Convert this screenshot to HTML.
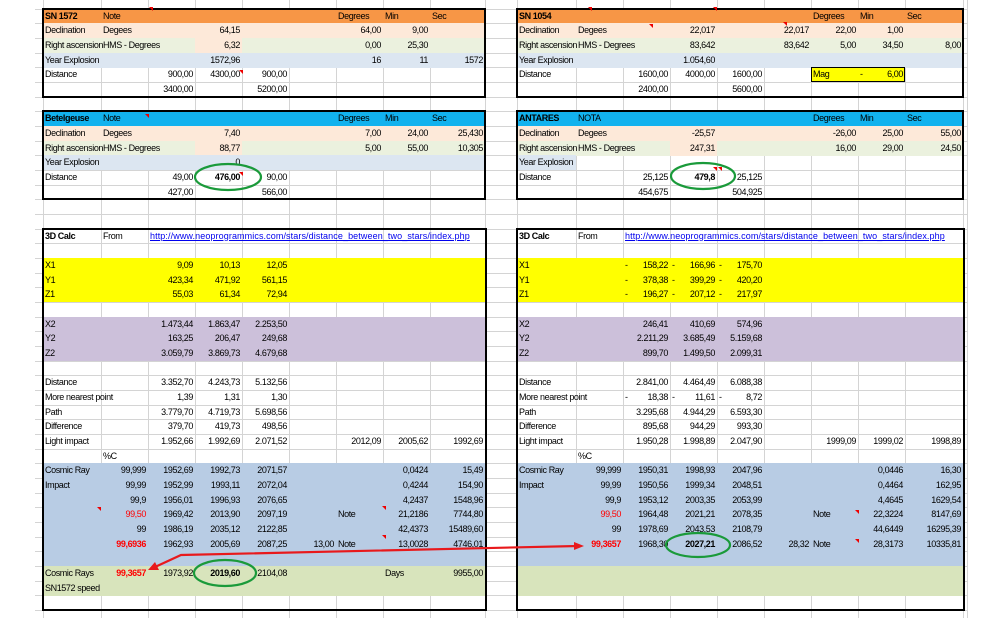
<!DOCTYPE html>
<html><head><meta charset="utf-8">
<style>
html,body{margin:0;padding:0;background:#fff;}
#w{position:relative;width:1000px;height:618px;overflow:hidden;font-family:"Liberation Sans",Arial,sans-serif;font-size:9px;letter-spacing:-0.4px;color:#000;}
.b{position:absolute;}
.t{position:absolute;white-space:nowrap;line-height:14.67px;height:14.67px;}
.bd{position:absolute;border:2px solid #000;box-sizing:border-box;}
</style></head><body>
<div id="w">
<svg id="grid" width="1000" height="618" style="position:absolute;left:0;top:0"></svg>
</div>
<script>
var W=document.getElementById('w'),G=document.getElementById('grid');
var H=14.67,Y0=8.5;
var L=[43,101,148,195,242,289,336,383,430,485],R=[517,576,623,670,717,764,811,858,905,963];
var s='';
[43,101,148,195,242,289,336,383,430,485,517,576,623,670,717,764,811,858,905,963,967].forEach(function(x){s+='<line x1="'+x+'.5" y1="0" x2="'+x+'.5" y2="618" stroke="#d4d4d4" stroke-width="1"/>';});
for(var k=-1;k<42;k++){var y=Math.round(Y0+k*H)+0.5;s+='<line x1="35" y1="'+y+'" x2="967" y2="'+y+'" stroke="#d4d4d4" stroke-width="1"/>';}
G.innerHTML=s;
function ry(r){return Y0+r*H;}
function band(C,c0,c1,r0,r1,col){var d=document.createElement('div');d.className='b';d.style.cssText='left:'+C[c0]+'px;width:'+(C[c1]-C[c0])+'px;top:'+ry(r0)+'px;height:'+((r1-r0)*H+0.5)+'px;background:'+col;W.appendChild(d);}
function tx(C,r,c,t,o){o=o||'';var d=document.createElement('div');d.className='t';var right=o.indexOf('L')<0&&/^[-0-9.,]+$/.test(t);
 if(right){d.style.left=(C[c]-60)+'px';d.style.width=(C[c+1]-C[c]+58)+'px';d.style.textAlign='right';}
 else{d.style.left=(C[c]+2)+'px';}
 d.style.top=ry(r)+'px';
 if(o.indexOf('b')>=0)d.style.fontWeight='bold';
 if(o.indexOf('x')>=0)d.style.color='#f00';
 if(o.indexOf('u')>=0){d.style.color='#0000ee';d.style.textDecoration='underline';d.style.letterSpacing='0.1px';}
 d.textContent=t;W.appendChild(d);}
function rows(C,r0,arr){arr.forEach(function(row,i){row.forEach(function(c){if(c)tx(C,r0+i,c[0],c[1],c[2]);});});}
var OR='#f79646',CY='#12b2ee',PE='#fde9d9',GR='#ebf1de',BL='#dce6f1';
function topBlock(C,r,col,peachD2,yearFull){
 band(C,0,9,r,r+1,col);band(C,0,9,r+1,r+2,PE);band(C,0,9,r+2,r+3,GR);
 if(peachD2)band(C,3,4,r+2,r+3,PE);
 band(C,0,yearFull?9:1,r+3,r+4,BL);
}
topBlock(L,0,OR,true,true);topBlock(L,7,CY,true,true);
topBlock(R,0,OR,false,true);topBlock(R,7,CY,true,false);
(function(){var d=document.createElement('div');d.className='b';d.style.cssText='left:811px;top:'+ry(4)+'px;width:94px;height:15px;background:#ffff00;border:1px solid #000;box-sizing:border-box';W.appendChild(d);})();
rows(L,0,[
 [[0,'SN 1572','b'],[1,'Note'],[6,'Degrees','L'],[7,'Min'],[8,'Sec']],
 [[0,'Declination'],[1,'Degees'],[3,'64,15'],[6,'64,00'],[7,'9,00']],
 [[0,'Right ascension'],[1,'HMS - Degrees'],[3,'6,32'],[6,'0,00'],[7,'25,30']],
 [[0,'Year Explosion'],[3,'1572,96'],[6,'16'],[7,'11'],[8,'1572']],
 [[0,'Distance'],[2,'900,00'],[3,'4300,00'],[4,'900,00']],
 [[2,'3400,00'],[4,'5200,00']],[],
 [[0,'Betelgeuse','b'],[1,'Note'],[6,'Degrees','L'],[7,'Min'],[8,'Sec']],
 [[0,'Declination'],[1,'Degees'],[3,'7,40'],[6,'7,00'],[7,'24,00'],[8,'25,430']],
 [[0,'Right ascension'],[1,'HMS - Degrees'],[3,'88,77'],[6,'5,00'],[7,'55,00'],[8,'10,305']],
 [[0,'Year Explosion'],[3,'0']],
 [[0,'Distance'],[2,'49,00'],[3,'476,00','b'],[4,'90,00']],
 [[2,'427,00'],[4,'566,00']]
]);
rows(R,0,[
 [[0,'SN 1054','b'],[6,'Degrees','L'],[7,'Min'],[8,'Sec']],
 [[0,'Declination'],[1,'Degees'],[3,'22,017'],[5,'22,017'],[6,'22,00'],[7,'1,00']],
 [[0,'Right ascension'],[1,'HMS - Degrees'],[3,'83,642'],[5,'83,642'],[6,'5,00'],[7,'34,50'],[8,'8,00']],
 [[0,'Year Explosion'],[3,'1.054,60']],
 [[0,'Distance'],[2,'1600,00'],[3,'4000,00'],[4,'1600,00'],[6,'Mag','L'],[7,'6,00']],
 [[2,'2400,00'],[4,'5600,00']],[],
 [[0,'ANTARES','b'],[1,'NOTA'],[6,'Degrees','L'],[7,'Min'],[8,'Sec']],
 [[0,'Declination'],[1,'Degees'],[3,'-25,57'],[6,'-26,00'],[7,'25,00'],[8,'55,00']],
 [[0,'Right ascension'],[1,'HMS - Degrees'],[3,'247,31'],[6,'16,00'],[7,'29,00'],[8,'24,50']],
 [[0,'Year Explosion']],
 [[0,'Distance'],[2,'25,125'],[3,'479,8','b'],[4,'25,125']],
 [[2,'454,675'],[4,'504,925']]
]);
tx(R,4,7,'-','L');
var B0=15;
[L,R].forEach(function(C){band(C,0,9,B0+2,B0+5,'#ffff00');band(C,0,9,B0+6,B0+9,'#ccc0da');band(C,0,9,B0+16,B0+23,'#b8cce4');band(C,0,9,B0+23,B0+25,'#d8e4bc');});
var url='http://www.neoprogrammics.com/stars/distance_between_two_stars/index.php';
rows(L,B0,[
 [[0,'3D Calc','b'],[1,'From'],[2,url,'uL']],[],
 [[0,'X1'],[2,'9,09'],[3,'10,13'],[4,'12,05']],
 [[0,'Y1'],[2,'423,34'],[3,'471,92'],[4,'561,15']],
 [[0,'Z1'],[2,'55,03'],[3,'61,34'],[4,'72,94']],[],
 [[0,'X2'],[2,'1.473,44'],[3,'1.863,47'],[4,'2.253,50']],
 [[0,'Y2'],[2,'163,25'],[3,'206,47'],[4,'249,68']],
 [[0,'Z2'],[2,'3.059,79'],[3,'3.869,73'],[4,'4.679,68']],[],
 [[0,'Distance'],[2,'3.352,70'],[3,'4.243,73'],[4,'5.132,56']],
 [[0,'More nearest point'],[2,'1,39'],[3,'1,31'],[4,'1,30']],
 [[0,'Path'],[2,'3.779,70'],[3,'4.719,73'],[4,'5.698,56']],
 [[0,'Difference'],[2,'379,70'],[3,'419,73'],[4,'498,56']],
 [[0,'Light impact'],[2,'1.952,66'],[3,'1.992,69'],[4,'2.071,52'],[6,'2012,09'],[7,'2005,62'],[8,'1992,69']],
 [[1,'%C']],
 [[0,'Cosmic Ray'],[1,'99,999'],[2,'1952,69'],[3,'1992,73'],[4,'2071,57'],[7,'0,0424'],[8,'15,49']],
 [[0,'Impact'],[1,'99,99'],[2,'1952,99'],[3,'1993,11'],[4,'2072,04'],[7,'0,4244'],[8,'154,90']],
 [[1,'99,9'],[2,'1956,01'],[3,'1996,93'],[4,'2076,65'],[7,'4,2437'],[8,'1548,96']],
 [[1,'99,50','x'],[2,'1969,42'],[3,'2013,90'],[4,'2097,19'],[6,'Note'],[7,'21,2186'],[8,'7744,80']],
 [[1,'99'],[2,'1986,19'],[3,'2035,12'],[4,'2122,85'],[7,'42,4373'],[8,'15489,60']],
 [[1,'99,6936','xb'],[2,'1962,93'],[3,'2005,69'],[4,'2087,25'],[5,'13,00'],[6,'Note'],[7,'13,0028'],[8,'4746,01']],[],
 [[0,'Cosmic Rays'],[1,'99,3657','xb'],[2,'1973,92'],[3,'2019,60','b'],[4,'2104,08'],[7,'Days','L'],[8,'9955,00']],
 [[0,'SN1572 speed']]
]);
rows(R,B0,[
 [[0,'3D Calc','b'],[1,'From'],[2,url,'uL']],[],
 [[0,'X1'],[2,'158,22'],[3,'166,96'],[4,'175,70']],
 [[0,'Y1'],[2,'378,38'],[3,'399,29'],[4,'420,20']],
 [[0,'Z1'],[2,'196,27'],[3,'207,12'],[4,'217,97']],[],
 [[0,'X2'],[2,'246,41'],[3,'410,69'],[4,'574,96']],
 [[0,'Y2'],[2,'2.211,29'],[3,'3.685,49'],[4,'5.159,68']],
 [[0,'Z2'],[2,'899,70'],[3,'1.499,50'],[4,'2.099,31']],[],
 [[0,'Distance'],[2,'2.841,00'],[3,'4.464,49'],[4,'6.088,38']],
 [[0,'More nearest point'],[2,'18,38'],[3,'11,61'],[4,'8,72']],
 [[0,'Path'],[2,'3.295,68'],[3,'4.944,29'],[4,'6.593,30']],
 [[0,'Difference'],[2,'895,68'],[3,'944,29'],[4,'993,30']],
 [[0,'Light impact'],[2,'1.950,28'],[3,'1.998,89'],[4,'2.047,90'],[6,'1999,09'],[7,'1999,02'],[8,'1998,89']],
 [[1,'%C']],
 [[0,'Cosmic Ray'],[1,'99,999'],[2,'1950,31'],[3,'1998,93'],[4,'2047,96'],[7,'0,0446'],[8,'16,30']],
 [[0,'Impact'],[1,'99,99'],[2,'1950,56'],[3,'1999,34'],[4,'2048,51'],[7,'0,4464'],[8,'162,95']],
 [[1,'99,9'],[2,'1953,12'],[3,'2003,35'],[4,'2053,99'],[7,'4,4645'],[8,'1629,54']],
 [[1,'99,50','x'],[2,'1964,48'],[3,'2021,21'],[4,'2078,35'],[6,'Note'],[7,'22,3224'],[8,'8147,69']],
 [[1,'99'],[2,'1978,69'],[3,'2043,53'],[4,'2108,79'],[7,'44,6449'],[8,'16295,39']],
 [[1,'99,3657','xb'],[2,'1968,30'],[3,'2027,21','b'],[4,'2086,52'],[5,'28,32'],[6,'Note'],[7,'28,3173'],[8,'10335,81']]
]);
[2,3,4,11].forEach(function(r){[2,3,4].forEach(function(c){tx(R,B0+r,c,'-','L');});});
function box(x0,x1,r0,r1,w){var d=document.createElement('div');d.className='bd';d.style.cssText+='left:'+(x0-1)+'px;top:'+(ry(r0)-1)+'px;width:'+(x1-x0+2)+'px;height:'+((r1-r0)*H+2)+'px;border-width:'+(w||2)+'px';W.appendChild(d);}
box(43,485,0,6);box(43,485,7,13);box(517,963,0,6);box(517,963,7,13);
box(43,486,15,41,2.5);box(517,964,15,41,2.5);
var o=document.createElementNS('http://www.w3.org/2000/svg','svg');o.setAttribute('width','1000');o.setAttribute('height','618');o.style.cssText='position:absolute;left:0;top:0';
o.innerHTML='<g fill="#e00">'+
 [[149,7],[588,7],[649,24],[239,70],[239,172],[145,114],[713,167],[718,167],[713,7],[783,22],[382,506],[382,535],[855,510],[855,539],[97,507]].map(function(p){return '<polygon points="'+p[0]+','+p[1]+' '+(p[0]+4)+','+p[1]+' '+(p[0]+4)+','+(p[1]+4)+'"/>';}).join('')+'</g>'+
 '<g fill="none" stroke="#1a9a3a" stroke-width="2.2"><ellipse cx="228" cy="177" rx="33" ry="13"/><ellipse cx="703" cy="176" rx="32" ry="13"/><ellipse cx="225" cy="573" rx="31" ry="13"/><ellipse cx="698" cy="545" rx="32" ry="12"/></g>'+
 '<polyline points="578,546 181,555 155,567" fill="none" stroke="#e8191c" stroke-width="2.2"/>'+
 '<polygon points="584,546 574,542 574,550" fill="#e8191c"/><polygon points="148,570 155,562 159,570" fill="#e8191c"/>';
W.appendChild(o);
</script>
</body></html>
